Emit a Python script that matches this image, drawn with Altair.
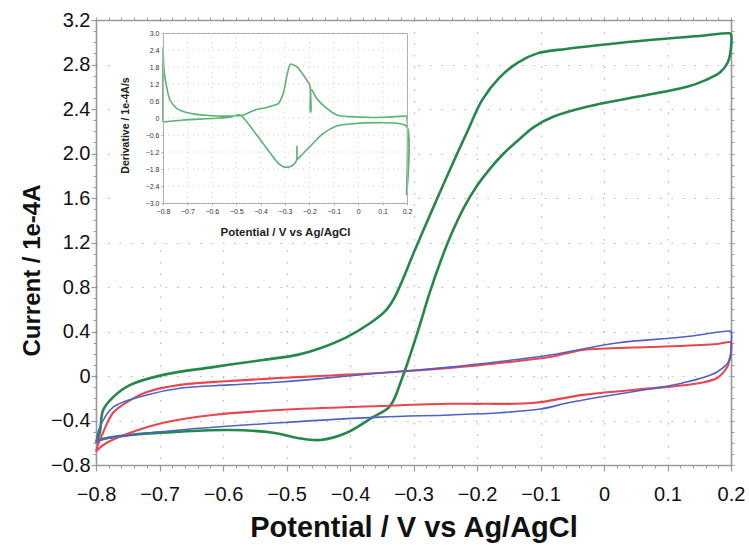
import altair as alt
import pandas as pd

# ---------------- data ----------------
green_x = [-0.800, -0.794, -0.789, -0.773, -0.746, -0.694, -0.616, -0.537, -0.483, -0.447,
           -0.405, -0.368, -0.345, -0.332, -0.322, -0.298, -0.270, -0.243, -0.215, -0.192,
           -0.165, -0.135, -0.105, -0.060, -0.006, 0.072, 0.150, 0.198, 0.200,
           0.200, 0.195, 0.183, 0.160, 0.131, 0.052, -0.027, -0.080, -0.110, -0.135,
           -0.158, -0.180, -0.200, -0.220, -0.240, -0.258, -0.275, -0.290, -0.304, -0.318,
           -0.337, -0.364, -0.405, -0.447, -0.483, -0.521, -0.589, -0.668, -0.746, -0.794, -0.800]
green_y = [-0.60, -0.51, -0.31, -0.19, -0.08, 0.01, 0.08, 0.144, 0.19, 0.25,
           0.35, 0.476, 0.58, 0.683, 0.80, 1.13, 1.50, 1.85, 2.20, 2.48,
           2.68, 2.82, 2.90, 2.94, 2.975, 3.02, 3.056, 3.08, 3.07,
           2.95, 2.82, 2.73, 2.66, 2.60, 2.51, 2.42, 2.33, 2.24, 2.12,
           2.00, 1.86, 1.71, 1.52, 1.28, 1.02, 0.74, 0.46, 0.21, -0.02,
           -0.27, -0.37, -0.51, -0.575, -0.557, -0.51, -0.485, -0.50, -0.53, -0.575, -0.60]

red_x = [-0.800, -0.797, -0.789, -0.773, -0.746, -0.720, -0.668, -0.590, -0.510, -0.430,
         -0.353, -0.243, -0.164, -0.085, -0.033, 0.072, 0.178, 0.197, 0.200,
         0.200, 0.197, 0.194, 0.178, 0.151, 0.046, -0.033, -0.112, -0.190, -0.243,
         -0.353, -0.510, -0.616, -0.694, -0.746, -0.783, -0.797, -0.800]
red_y = [-0.68, -0.62, -0.51, -0.33, -0.216, -0.144, -0.08, -0.045, -0.018, 0.005,
         0.027, 0.072, 0.117, 0.17, 0.234, 0.26, 0.288, 0.306, 0.30,
         0.21, 0.14, 0.08, -0.018, -0.063, -0.126, -0.17, -0.243, -0.25, -0.25,
         -0.27, -0.305, -0.35, -0.42, -0.51, -0.60, -0.66, -0.68]

blue_x = [-0.800, -0.794, -0.773, -0.720, -0.668, -0.590, -0.510, -0.430, -0.353, -0.243,
          -0.164, -0.085, 0.020, 0.124, 0.197, 0.200,
          0.200, 0.198, 0.178, 0.124, 0.072, -0.006, -0.058, -0.100, -0.164, -0.243,
          -0.353, -0.510, -0.668, -0.746, -0.794, -0.800]
blue_y = [-0.60, -0.46, -0.28, -0.17, -0.11, -0.08, -0.054, -0.015, 0.027, 0.08,
          0.13, 0.189, 0.297, 0.35, 0.405, 0.40,
          0.25, 0.144, 0.036, -0.063, -0.117, -0.189, -0.243, -0.297, -0.33, -0.35,
          -0.37, -0.42, -0.485, -0.53, -0.575, -0.60]

inset_x = [-0.800, -0.800, -0.795, -0.785, -0.771, -0.744, -0.689, -0.580, -0.500, -0.471,
           -0.440, -0.416, -0.375, -0.345, -0.327, -0.307, -0.290, -0.277, -0.265, -0.252,
           -0.230, -0.211, -0.198, -0.196, -0.194, -0.192, -0.170, -0.129, -0.088, -0.034,
           0.103, 0.192, 0.197, 0.198, 0.200,
           0.170, 0.103, -0.034, -0.088, -0.143, -0.198, -0.239, -0.249, -0.251, -0.253,
           -0.262, -0.280, -0.307, -0.327, -0.375, -0.416, -0.457, -0.484, -0.520, -0.580,
           -0.717, -0.790, -0.800]
inset_y = [-0.13, 2.50, 1.60, 1.10, 0.635, 0.34, 0.165, 0.07, 0.08, 0.106,
           0.22, 0.30, 0.37, 0.45, 0.51, 0.87, 1.58, 1.90, 1.87, 1.81,
           1.58, 1.34, 1.15, 0.22, 0.22, 1.00, 0.69, 0.34, 0.106, 0.047,
           0.024, 0.07, 0.07, -2.70, -0.31,
           -0.20, -0.165, -0.21, -0.28, -0.54, -1.01, -1.37, -1.45, -1.00, -1.50,
           -1.62, -1.72, -1.72, -1.60, -1.07, -0.60, -0.13, 0.106, 0.04, -0.01,
           -0.07, -0.13, -0.13]

series_names = ["green", "red", "blue"]
series_colors = ["#25884a", "#e8474f", "#5062c6"]
series_widths = [2.6, 1.6, 1.6]

x_major = [-0.8, -0.7, -0.6, -0.5, -0.4, -0.3, -0.2, -0.1, 0.0, 0.1, 0.2]
y_major = [-0.8, -0.4, 0.0, 0.4, 0.8, 1.2, 1.6, 2.0, 2.4, 2.8, 3.2]
x_minor = [round(-0.8 + 0.02 * k, 2) for k in range(51)]
y_minor = [round(-0.8 + 0.1 * k, 1) for k in range(41)]
inset_x_ticks = [-0.8, -0.7, -0.6, -0.5, -0.4, -0.3, -0.2, -0.1, 0.0, 0.1, 0.2]
inset_y_ticks = [-3.0, -2.4, -1.8, -1.2, -0.6, 0.0, 0.6, 1.2, 1.8, 2.4, 3.0]

# ---------------- tables ----------------
frames = []
for name, xs, ys in [("green", green_x, green_y), ("red", red_x, red_y), ("blue", blue_x, blue_y)]:
    frames.append(pd.DataFrame({"E": xs, "I": ys, "series": name, "i": list(range(len(xs)))}))
main_df = pd.concat(frames, ignore_index=True)
inset_df = pd.DataFrame({"E": inset_x, "D": inset_y, "i": list(range(len(inset_x)))})
grid_vx = pd.DataFrame({"E": inset_x_ticks, "lo": -3.0, "hi": 3.0})
grid_hy = pd.DataFrame({"D": inset_y_ticks, "lo": -0.8, "hi": 0.2})

FONT = "Liberation Sans"
AXC = "#9a9a9a"
LBL = "datum.value == 0 ? '0' : format(datum.value, '.1f')"

W, H = 635, 445
xs_main = alt.Scale(domain=[-0.8, 0.2], nice=False, zero=False)
ys_main = alt.Scale(domain=[-0.8, 3.2], nice=False, zero=False)
xs_in = alt.Scale(domain=[-0.8, 0.2], range=[67, 311], nice=False, zero=False)
ys_in = alt.Scale(domain=[-3.0, 3.0], range=[183, 13], nice=False, zero=False)

main = alt.Chart(main_df).mark_line(strokeJoin="round", interpolate="catmull-rom").encode(
    x=alt.X("E:Q", scale=xs_main, axis=alt.Axis(
        orient="bottom", values=x_major, labelExpr=LBL, title="Potential / V vs Ag/AgCl",
        grid=True, gridDash=[1.5, 10], gridColor="#b8b8b8", gridWidth=1.2,
        domainColor=AXC, domainWidth=1.6, tickColor=AXC, tickSize=6, tickWidth=1.2,
        labelFont=FONT, labelFontSize=20, labelColor="#111", labelPadding=13,
        labelFlush=False, labelOverlap=False,
        titleFont=FONT, titleFontSize=29, titleFontWeight="bold", titleColor="#111",
        titleY=62, titleBaseline="middle")),
    y=alt.Y("I:Q", scale=ys_main, axis=alt.Axis(
        orient="left", values=y_major, labelExpr=LBL, title="Current / 1e-4A",
        grid=True, gridDash=[1.5, 10], gridColor="#b8b8b8", gridWidth=1.2,
        domainColor=AXC, domainWidth=1.6, tickColor=AXC, tickSize=5, tickWidth=1.2,
        labelFont=FONT, labelFontSize=20, labelColor="#111", labelPadding=1,
        labelFlush=False, labelOverlap=False,
        titleFont=FONT, titleFontSize=24, titleFontWeight="bold", titleColor="#111",
        titleX=-64, titleY=250, titleBaseline="middle")),
    color=alt.Color("series:N", scale=alt.Scale(domain=series_names, range=series_colors), legend=None),
    strokeWidth=alt.StrokeWidth("series:N", scale=alt.Scale(domain=series_names, range=series_widths), legend=None),
    order=alt.Order("i:Q"),
)

minor = alt.Chart(main_df).mark_point(opacity=0).encode(
    x=alt.X("E:Q", scale=xs_main, axis=alt.Axis(
        orient="bottom", values=x_minor, labels=False, title=None, grid=False, domain=False,
        tickColor=AXC, tickSize=3, tickWidth=1)),
    y=alt.Y("I:Q", scale=ys_main, axis=alt.Axis(
        orient="left", values=y_minor, labels=False, title=None, grid=False, domain=False,
        tickColor=AXC, tickSize=3, tickWidth=1)),
)

frame = alt.Chart(main_df).mark_point(opacity=0).encode(
    x=alt.X("E:Q", scale=xs_main, axis=alt.Axis(
        orient="top", values=x_minor, labels=False, title=None, grid=False,
        domainColor=AXC, domainWidth=1.6, tickColor=AXC, tickSize=3, tickWidth=1)),
    y=alt.Y("I:Q", scale=ys_main, axis=alt.Axis(
        orient="right", values=y_minor, labels=False, title=None, grid=False,
        domainColor=AXC, domainWidth=1.6, tickColor=AXC, tickSize=3, tickWidth=1)),
)

bg = alt.Chart(pd.DataFrame({"k": [0]})).mark_rect(color="white").encode(
    x=alt.value(14), x2=alt.value(316), y=alt.value(5), y2=alt.value(223)
)

gx = alt.Chart(grid_vx).mark_rule(color="#c4c4c4", strokeDash=[1, 4], strokeWidth=0.8).encode(
    x=alt.X("E:Q", scale=xs_in, axis=None),
    y=alt.Y("lo:Q", scale=ys_in, axis=None),
    y2="hi:Q",
)
gy = alt.Chart(grid_hy).mark_rule(color="#c4c4c4", strokeDash=[1, 4], strokeWidth=0.8).encode(
    y=alt.Y("D:Q", scale=ys_in, axis=None),
    x=alt.X("lo:Q", scale=xs_in, axis=None),
    x2="hi:Q",
)

inset = alt.Chart(inset_df).mark_line(color="#5cb372", strokeWidth=1.6, strokeJoin="round",
                                      interpolate="catmull-rom").encode(
    x=alt.X("E:Q", scale=xs_in, axis=alt.Axis(
        orient="bottom", offset=-262, values=inset_x_ticks, labelExpr=LBL,
        title="Potential / V vs Ag/AgCl", grid=False, zindex=1,
        domainColor="#b0b0b0", domainWidth=1, tickColor="#b0b0b0", tickSize=2,
        labelFont=FONT, labelFontSize=7, labelColor="#333", labelPadding=2,
        labelFlush=False, labelOverlap=False,
        titleFont=FONT, titleFontSize=11.5, titleFontWeight="bold", titleColor="#222",
        titleY=29, titleBaseline="middle")),
    y=alt.Y("D:Q", scale=ys_in, axis=alt.Axis(
        orient="left", offset=-67, values=inset_y_ticks, labelExpr=LBL,
        title="Derivative / 1e-4A/s", grid=False, zindex=1,
        domainColor="#b0b0b0", domainWidth=1, tickColor="#b0b0b0", tickSize=2,
        labelFont=FONT, labelFontSize=7, labelColor="#333", labelPadding=2,
        labelFlush=False, labelOverlap=False,
        titleFont=FONT, titleFontSize=10.5, titleFontWeight="bold", titleColor="#222",
        titleX=-38, titleY=105, titleBaseline="middle")),
    order=alt.Order("i:Q"),
)

inset_frame = alt.Chart(inset_df).mark_point(opacity=0).encode(
    x=alt.X("E:Q", scale=xs_in, axis=alt.Axis(
        orient="top", offset=-13, labels=False, ticks=False, title=None, grid=False, zindex=1,
        domainColor="#b0b0b0", domainWidth=1)),
    y=alt.Y("D:Q", scale=ys_in, axis=alt.Axis(
        orient="right", offset=-324, labels=False, ticks=False, title=None, grid=False, zindex=1,
        domainColor="#b0b0b0", domainWidth=1)),
)

chart = alt.layer(main, minor, frame, bg, gx, gy, inset, inset_frame).resolve_scale(
    x="independent", y="independent"
).properties(
    width=W, height=H,
    autosize=alt.AutoSizeParams(type="none"),
    padding={"left": 96, "top": 20, "right": 18, "bottom": 80},
    background="white",
).configure_view(stroke=None)

chart.save("out.html", embed_options={"renderer": "svg", "actions": False})
